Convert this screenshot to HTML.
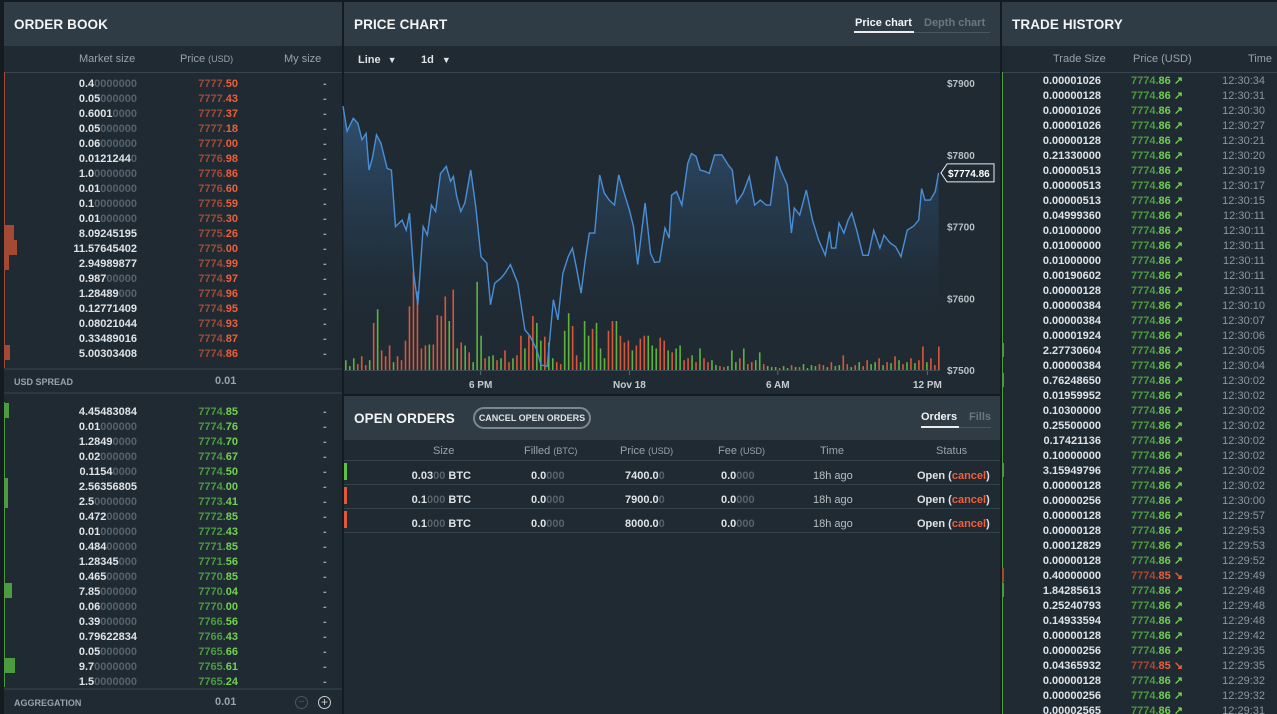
<!DOCTYPE html>
<html><head><meta charset="utf-8">
<style>
*{box-sizing:border-box;margin:0;padding:0}
body{width:1277px;height:714px;overflow:hidden;background:#141c22;font-family:"Liberation Sans",sans-serif;color:#e4e8ea;position:relative}
.abs{position:absolute}
.panel{position:absolute;background:#1f2a33;overflow:hidden}
.hdr{position:absolute;left:0;right:0;top:0;height:44px;background:#2f3c45}
.title{position:absolute;top:15px;font-weight:bold;font-size:13.5px;color:#f2f4f5;letter-spacing:0.1px}
.colh{position:absolute;font-size:11px;color:#98a3aa}
.colh small{font-size:9px}
.num{position:absolute;font-size:11px;font-weight:bold;white-space:nowrap;line-height:13px}
.dim{color:#56636c}
.w{color:#dfe3e6}
.rd{color:#a44a34}.rb{color:#ef5f3a}
.gd{color:#4b9b3f}.gb{color:#72d24f}
.line{position:absolute;height:1px;background:#364550}
</style></head><body>

<!-- ORDER BOOK -->
<div class="panel" style="left:4px;top:2px;width:338px;height:712px" id="ob">
  <div class="hdr"><div class="title" style="left:10px">ORDER BOOK</div></div>
  <div class="colh" style="left:75px;top:51px">Market size</div>
  <div class="colh" style="left:176px;top:51px">Price <small>(USD)</small></div>
  <div class="colh" style="left:280px;top:51px">My size</div>
  <div class="line" style="left:0;right:0;top:70px"></div>
  <div class="abs" style="left:0;top:70px;width:1px;height:296px;background:#a44a34"></div>
  <div class="line" style="left:0;right:0;top:366px;height:2px;background:#2c3943"></div>
  <div class="num" style="left:10px;top:374px;font-size:9px;color:#98a3aa">USD SPREAD</div>
  <div class="num" style="left:211px;top:373px;color:#98a3aa">0.01</div>
  <div class="line" style="left:0;right:0;top:390px;height:2px;background:#2c3943"></div>
  <div class="abs" style="left:0;top:400px;width:1px;height:285px;background:#4b9b3f"></div>
  <div class="line" style="left:0;right:0;top:686px;height:2px;background:#2c3943"></div>
  <div class="num" style="left:10px;top:695px;font-size:9px;color:#98a3aa">AGGREGATION</div>
  <div class="num" style="left:211px;top:694px;color:#98a3aa">0.01</div>
  <div class="abs" style="left:291px;top:694px;width:13px;height:13px;border:1px solid #4a565e;border-radius:50%;color:#4a565e;font-size:11px;line-height:10px;text-align:center">−</div>
  <div class="abs" style="left:314px;top:694px;width:13px;height:13px;border:1px solid #c8cdd0;border-radius:50%;color:#c8cdd0;font-size:12px;line-height:10px;text-align:center">+</div>
</div>

<!-- PRICE CHART -->
<div class="panel" style="left:344px;top:2px;width:656px;height:392px">
  <div class="hdr">
    <div class="title" style="left:10px">PRICE CHART</div>
    <div class="num" style="left:511px;top:15px;color:#f2f4f5">Price chart</div>
    <div class="abs" style="left:510px;top:29px;width:60px;height:2px;background:#e8ecee"></div>
    <div class="num" style="left:580px;top:15px;color:#6b777f">Depth chart</div>
    <div class="abs" style="left:570px;top:30px;width:76px;height:1px;background:#4a565e"></div>
  </div>
  <div class="num" style="left:14px;top:52px;color:#dfe3e6">Line <span style="font-size:9px;margin-left:4px">▼</span></div>
  <div class="num" style="left:77px;top:52px;color:#dfe3e6">1d <span style="font-size:9px;margin-left:5px">▼</span></div>
  <div class="line" style="left:0;right:0;top:70px"></div>
</div>
<svg id="chart" class="abs" style="left:0;top:0" width="1277" height="400"></svg>

<!-- OPEN ORDERS -->
<div class="panel" style="left:344px;top:396px;width:656px;height:318px">
  <div class="hdr">
    <div class="title" style="left:10px">OPEN ORDERS</div>
    <div class="abs" style="left:129px;top:11px;width:118px;height:22px;border:2px solid #7d878d;border-radius:11px;font-size:9px;font-weight:bold;color:#dfe3e6;text-align:center;line-height:18px">CANCEL OPEN ORDERS</div>
    <div class="num" style="left:577px;top:15px;color:#f2f4f5">Orders</div>
    <div class="abs" style="left:577px;top:30px;width:38px;height:2px;background:#e8ecee"></div>
    <div class="num" style="left:625px;top:15px;color:#6b777f">Fills</div>
    <div class="abs" style="left:615px;top:31px;width:32px;height:1px;background:#4a565e"></div>
  </div>
  <div class="colh" style="left:89px;top:49px">Size</div>
  <div class="colh" style="left:180px;top:49px">Filled <small>(BTC)</small></div>
  <div class="colh" style="left:276px;top:49px">Price <small>(USD)</small></div>
  <div class="colh" style="left:374px;top:49px">Fee <small>(USD)</small></div>
  <div class="colh" style="left:476px;top:49px">Time</div>
  <div class="colh" style="left:592px;top:49px">Status</div>
  <div id="oo"></div>
</div>

<!-- TRADE HISTORY -->
<div class="panel" style="left:1002px;top:2px;width:275px;height:712px" id="th">
  <div class="hdr"><div class="title" style="left:10px">TRADE HISTORY</div></div>
  <div class="colh" style="left:51px;top:51px">Trade Size</div>
  <div class="colh" style="left:131px;top:51px">Price (USD)</div>
  <div class="colh" style="left:246px;top:51px">Time</div>
  <div class="line" style="left:0;right:0;top:70px"></div>
  <div class="abs" style="left:0;top:70px;width:1px;height:642px;background:#4b9b3f"></div>
</div>

<script>
const NS='http://www.w3.org/2000/svg';
// ---- chart data ----
const priceMinutes=[0,10,25,36,46,56,63,71,81,92,107,117,127,143,153,161,171,181,194,204,214,224,236,250,260,267,275,285,295,309,321,334,348,357,367,382,392,405,423,440,453,469,479,494,509,520,532,545,555,565,576,586,596,609,621,632,644,657,667,677,693,703,713,731,744,754,766,779,789,795,807,820,834,843,854,864,876,886,899,917,932,942,952,968,983,996,1010,1024,1034,1049,1059,1075,1085,1092,1105,1121,1136,1151,1167,1177,1182,1192,1200,1212,1222,1231,1243,1258,1271,1284,1299,1309,1324,1337,1350,1365,1381,1393,1400,1408,1421,1433,1441];
const priceValues=[7868,7833,7851,7844,7821,7830,7779,7795,7828,7816,7781,7779,7700,7709,7695,7719,7635,7591,7700,7688,7730,7721,7774,7784,7763,7770,7742,7721,7733,7779,7728,7658,7649,7591,7621,7628,7635,7647,7621,7556,7547,7528,7507,7505,7598,7570,7635,7658,7670,7642,7607,7653,7691,7691,7772,7747,7737,7730,7772,7753,7723,7700,7647,7733,7663,7650,7651,7698,7684,7744,7749,7730,7788,7802,7798,7779,7777,7774,7800,7800,7786,7779,7733,7747,7770,7730,7737,7730,7730,7798,7779,7758,7691,7726,7716,7751,7709,7681,7660,7693,7670,7670,7705,7691,7709,7719,7695,7660,7660,7695,7670,7688,7677,7672,7658,7695,7701,7709,7753,7737,7737,7749,7774.86];
const priceTicks=[7900,7800,7700,7600,7500];
const timeTickLabels=['6 PM','Nov 18','6 AM','12 PM'];
const timeTickMinutes=[333,693,1052,1414];
const volumeValues=[10,4,12,6,14,5,10,48,62,20,14,25,8,14,10,30,65,100,80,22,25,26,26,56,55,75,50,82,22,28,25,18,8,90,35,12,14,15,10,12,20,8,12,15,35,22,35,55,48,30,34,28,12,8,6,40,58,45,15,8,50,35,42,48,22,12,40,50,50,35,28,30,20,25,32,35,35,25,22,33,30,20,18,22,25,10,12,15,8,22,12,8,10,5,4,3,4,20,8,12,22,6,8,10,18,6,4,3,3,2,4,2,5,3,3,6,2,5,4,6,5,3,8,4,5,15,6,3,5,8,4,10,6,8,12,5,8,7,14,10,6,8,12,7,10,24,8,12,5,24];
const volumeSides='gggrrrgrgrrrgrrrrrrrrgrrrrgrgrgrgggrggrgrrgrrgrrggrggrrggrrgggrgggrrgrrrgrrrgggrrgrggrrgrgrrggrrgggrgrrggrgggrggrgrggggrrgrggrrgrgrrggrgrgrgrgrgrrg';
const lastPrice=7774.86;

const X=m=>343+m*0.4133;
const Y=p=>370-(p-7500)*0.717;
const VY=v=>370-v*0.98;
const svg=document.getElementById('chart');
function mk(tag,attrs){const e=document.createElementNS(NS,tag);for(const k in attrs)e.setAttribute(k,attrs[k]);svg.appendChild(e);return e;}
const defs=mk('defs',{});
defs.innerHTML='<linearGradient id="ag" gradientUnits="userSpaceOnUse" x1="0" y1="110" x2="0" y2="330"><stop offset="0" stop-color="#3a6a99" stop-opacity="0.6"/><stop offset="0.6" stop-color="#2a4560" stop-opacity="0.35"/><stop offset="1" stop-color="#1f2a33" stop-opacity="0"/></linearGradient>';
// area
let pts=priceMinutes.map((m,i)=>X(m).toFixed(1)+','+Y(priceValues[i]).toFixed(1));
const area=mk('polygon',{points:X(0)+',370 '+pts.join(' ')+' '+X(priceMinutes[priceMinutes.length-1])+',370',fill:'url(#ag)'});


// volumes
volumeValues.forEach((v,i)=>{
  const b=mk('rect',{x:345+i*3.98,y:VY(v),width:1.6,height:370-VY(v),fill:volumeSides[i]==='g'?'#5cb43f':'#d8573a'});
  
  
});
const pl=mk('polyline',{points:pts.join(' '),fill:'none',stroke:'#4a8fd6','stroke-width':1.4});


// axes
const ax=mk('line',{x1:344,x2:940,y1:370.5,y2:370.5,stroke:'#3a4954'});


priceTicks.forEach(p=>{
  const t=mk('text',{x:947,y:Y(p)+4,fill:'#b7bfc4','font-size':10,'font-weight':'bold','font-family':'Liberation Sans'});
  t.textContent='$'+p;
  
  
});
timeTickLabels.forEach((l,i)=>{
  const x=X(timeTickMinutes[i]);
  mk('line',{x1:x,x2:x,y1:371,y2:375,stroke:'#5a6870'});
  const t=mk('text',{x:x,y:388,fill:'#c6ccd0','font-size':10,'font-weight':'bold','text-anchor':'middle','font-family':'Liberation Sans'});
  t.textContent=l;
  
  
});
const ly=Y(lastPrice);
const tag=mk('path',{d:`M941,${ly} L947,${ly-9} L994,${ly-9} L994,${ly+9} L947,${ly+9} Z`,fill:'#1f2a33',stroke:'#e8ecee','stroke-width':1});


const tt=mk('text',{x:948,y:ly+4,fill:'#fff','font-size':10,'font-weight':'bold','font-family':'Liberation Sans'});
tt.textContent='$'+lastPrice;



// ---- order book ----
const ob=document.getElementById('ob');
function add(parent,html,style,name){const d=document.createElement('div');d.className='num';d.style.cssText=style;d.innerHTML=html;


parent.appendChild(d);return d;}
function bar(parent,x,y,w,h,c){const d=document.createElement('div');d.className='abs';d.style.cssText=`left:${x}px;top:${y}px;width:${w}px;height:${h}px;background:${c}`;


parent.appendChild(d);}
const askSizes=['0.4|0000000','0.05|000000','0.6001|0000','0.05|000000','0.06|000000','0.0121244|0','1.0|0000000','0.01|000000','0.1|0000000','0.01|000000','8.09245195|','11.57645402|','2.94989877|','0.987|00000','1.28489|000','0.12771409|','0.08021044|','0.33489016|','5.00303408|'];
const askPrices=['7777.50','7777.43','7777.37','7777.18','7777.00','7776.98','7776.86','7776.60','7776.59','7775.30','7775.26','7775.00','7774.99','7774.97','7774.96','7774.95','7774.93','7774.87','7774.86'];
const askDepth=[0,0,0,0,0,0,0,0,0,0,10,13,5,0,0,0,0,0,6];
const bidSizes=['4.45483084|','0.01|000000','1.2849|0000','0.02|000000','0.1154|0000','2.56356805|','2.5|0000000','0.472|00000','0.01|000000','0.484|00000','1.28345|000','0.465|00000','7.85|000000','0.06|000000','0.39|000000','0.79622834|','0.05|000000','9.7|0000000','1.5|0000000'];
const bidPrices=['7774.85','7774.76','7774.70','7774.67','7774.50','7774.00','7773.41','7772.85','7772.43','7771.85','7771.56','7770.85','7770.04','7770.00','7766.56','7766.43','7765.66','7765.61','7765.24'];
const bidDepth=[5,0,0,0,0,4,4,0,0,0,0,0,8,0,0,0,0,11,0];
function sizeHtml(s){const [a,b]=s.split('|');return '<span class="w">'+a+'</span><span class="dim">'+b+'</span>';}
function book(sizes,prices,depth,top,dk,bk,col,nm){
  sizes.forEach((s,i)=>{
    const y=top+i*15;
    add(ob,sizeHtml(s),`right:${338-133}px;top:${y}px`,nm+'-size');
    const p=prices[i];
    add(ob,`<span class="${dk}">${p.slice(0,5)}</span><span class="${bk}">${p.slice(5)}</span>`,`right:${338-234}px;top:${y}px`,nm+'-price');
    add(ob,'-',`left:319px;top:${y}px;color:#98a3aa`,nm+'-my-size');
    if(depth[i])bar(ob,0,y-3,depth[i],15,col);
  });
}
book(askSizes,askPrices,askDepth,76,'rd','rb','#a44a34','ask');
book(bidSizes,bidPrices,bidDepth,404,'gd','gb','#4b9b3f','bid');

// ---- open orders ----
const oo=document.getElementById('oo').parentNode;
const orderSizes=['0.03|00','0.1|000','0.1|000'];
const orderPrices=['7400.0','7900.0','8000.0'];
const orderSides=['#5cc23f','#e0573a','#e0573a'];
orderSizes.forEach((s,i)=>{
  const y=74+i*24;
  add(oo,sizeHtml(s)+' <span class="w">BTC</span>',`right:${656-127}px;top:${y}px`,'order-size');
  add(oo,'<span class="w">0.0</span><span class="dim">000</span>',`left:187px;top:${y}px`,'order-filled');
  add(oo,'<span class="w">'+orderPrices[i]+'</span><span class="dim">0</span>',`left:281px;top:${y}px`,'order-price');
  add(oo,'<span class="w">0.0</span><span class="dim">000</span>',`left:377px;top:${y}px`,'order-fee');
  add(oo,'18h ago',`left:469px;top:${y}px;font-weight:normal;color:#b7bfc4`,'order-time');
  const st=add(oo,'<span class="w">Open (</span><span class="rb">cancel</span><span class="w">)</span>',`left:573px;top:${y}px`,'order-status');
  
  bar(oo,0,y-7,3,17,orderSides[i]);
  const l=document.createElement('div');l.className='line';l.style.cssText=`left:0;right:0;top:${y-10}px;background:#33414b`;oo.appendChild(l);
  if(i==2){const l2=document.createElement('div');l2.className='line';l2.style.cssText=`left:0;right:0;top:${y+14}px;background:#33414b`;oo.appendChild(l2);}
});

// ---- trade history ----
const th=document.getElementById('th');
const tradeSizes=['0.00001026','0.00000128','0.00001026','0.00001026','0.00000128','0.21330000','0.00000513','0.00000513','0.00000513','0.04999360','0.01000000','0.01000000','0.01000000','0.00190602','0.00000128','0.00000384','0.00000384','0.00001924','2.27730604','0.00000384','0.76248650','0.01959952','0.10300000','0.25500000','0.17421136','0.10000000','3.15949796','0.00000128','0.00000256','0.00000128','0.00000128','0.00012829','0.00000128','0.40000000','1.84285613','0.25240793','0.14933594','0.00000128','0.00000256','0.04365932','0.00000128','0.00000256','0.00002565'];
const tradeTimes=['12:30:34','12:30:31','12:30:30','12:30:27','12:30:21','12:30:20','12:30:19','12:30:17','12:30:15','12:30:11','12:30:11','12:30:11','12:30:11','12:30:11','12:30:11','12:30:10','12:30:07','12:30:06','12:30:05','12:30:04','12:30:02','12:30:02','12:30:02','12:30:02','12:30:02','12:30:02','12:30:02','12:30:02','12:30:00','12:29:57','12:29:53','12:29:53','12:29:52','12:29:49','12:29:48','12:29:48','12:29:48','12:29:42','12:29:35','12:29:35','12:29:32','12:29:32','12:29:31'];
const tradeSells=[33,39];
tradeSizes.forEach((s,i)=>{
  const y=73+i*15;
  add(th,'<span class="w">'+s+'</span>',`right:${275-99}px;top:${y}px`,'trade-size');
  const sell=tradeSells.includes(i);
  add(th,sell?'<span class="rd">7774.</span><span class="rb">85 ↘</span>':'<span class="gd">7774.</span><span class="gb">86 ↗</span>',`left:129px;top:${y}px`,'trade-price');
  add(th,tradeTimes[i],`right:${275-263}px;top:${y}px;font-weight:normal;color:#8c969d`,'trade-time');
  const v=parseFloat(s);
  if(v>=0.4)bar(th,0,y-2,2,14,sell?'#a44a34':'#4b9b3f');
});
</script>
</body></html>
